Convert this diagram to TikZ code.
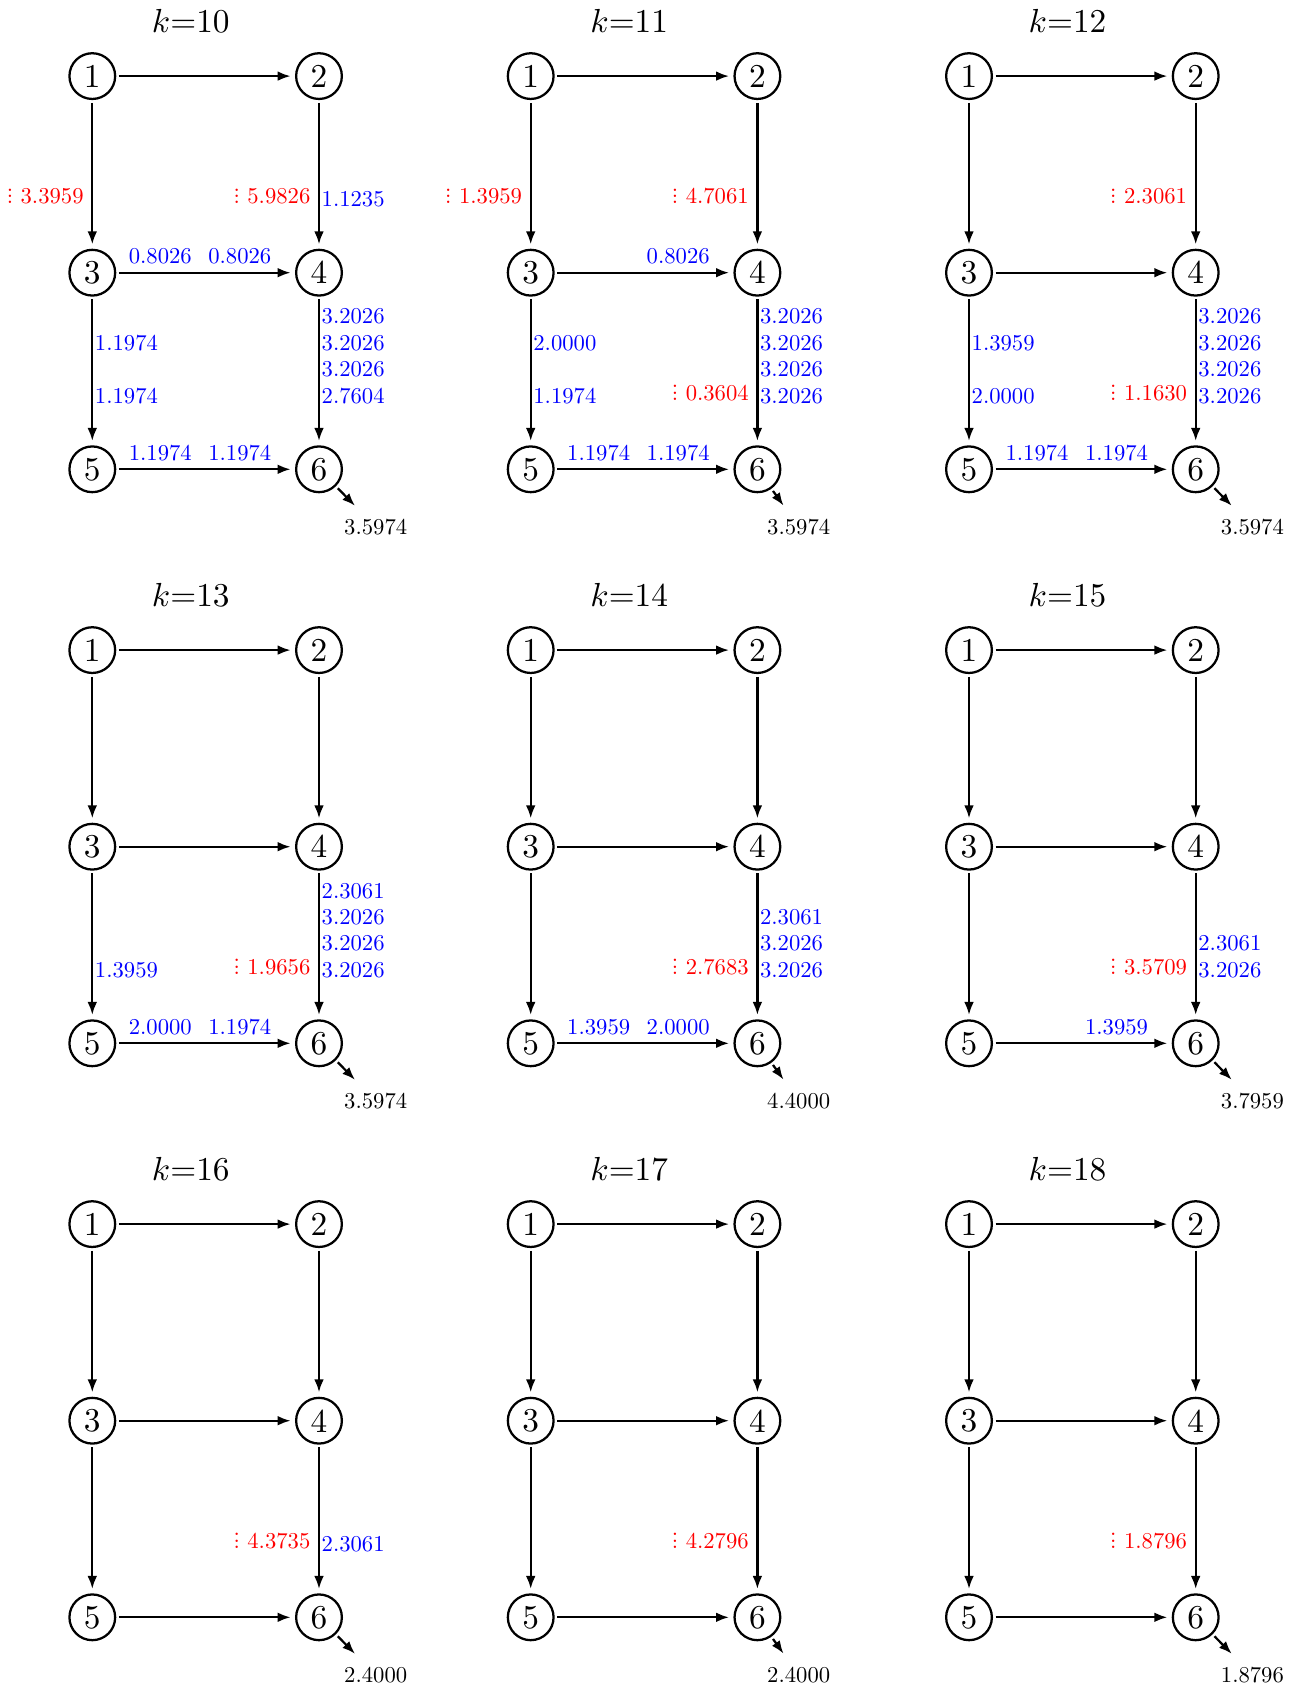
\documentclass[tikz,border=0pt]{standalone}
\usetikzlibrary{arrows.meta}
\font\labfont="[lmroman10-regular]" at 6.8pt
\newcounter{lbl}
\newcommand\rdots{\vbox{\baselineskip=1.9pt\lineskiplimit=-10pt\lineskip=0pt\hbox{.}\hbox{.}\hbox{.}}}
\tikzset{
  vx/.style={circle, draw, line width=0.68pt, minimum size=13.72pt, inner sep=0pt, outer sep=1.14pt, font=\fontsize{10}{12}\selectfont},
  arr/.style={-{Latex[length=3.9pt,width=2.9pt]}, line width=0.68pt, shorten >=0.5pt},
  blab/.style={text=blue, inner sep=0pt, font=\labfont},
  rlab/.style={text=red, inner sep=0pt, font=\labfont, anchor=base east},
  olab/.style={font=\labfont},
  ttl/.style={anchor=base, font=\fontsize{10}{12}\selectfont}
}
% blue label right of a vertical edge: edge x, baseline y, text
\newcommand\VL[3]{\stepcounter{lbl}\node[blab,anchor=base west] (lbl\arabic{lbl}) at (#1+2,#2) {#3};}
% blue label above a horizontal edge: centre x, baseline y, text
\newcommand\HL[3]{\stepcounter{lbl}\node[blab,anchor=base] (lbl\arabic{lbl}) at (#1,#2) {#3};}
% red label left of a vertical edge
\newcommand\RL[3]{\stepcounter{lbl}\node[rlab] (lbl\arabic{lbl}) at (#1-8,#2) {\rdots\ #3};}
% panel: name, X, Y, k, out dx, out text
\newcommand\mkpanel[6]{%
  \begin{scope}[shift={(#2,#3)}]
    \node[vx] (#1-1) at (0,0) {1};
    \node[vx] (#1-2) at (226.7,0) {2};
    \node[vx] (#1-3) at (0,196.6) {3};
    \node[vx] (#1-4) at (226.7,196.6) {4};
    \node[vx] (#1-5) at (0,393.2) {5};
    \node[vx] (#1-6) at (226.7,393.2) {6};
    \node[ttl] (#1-t) at (98.5,-43.2) {$k$=#4};
    \node[olab] (#1-o) at (226.7+#5,450.6) {#6};
  \end{scope}
  \draw[arr] (#1-1) -- (#1-2);
  \draw[arr] (#1-1) -- (#1-3);
  \draw[arr] (#1-2) -- (#1-4);
  \draw[arr] (#1-3) -- (#1-4);
  \draw[arr] (#1-3) -- (#1-5);
  \draw[arr] (#1-4) -- (#1-6);
  \draw[arr] (#1-5) -- (#1-6);
  \draw[arr] (#1-6) -- (#1-o);
}
\begin{document}
\begin{tikzpicture}[x=0.3pt,y=-0.3pt]
\useasboundingbox (0,0) rectangle (1303,1689);

% ---------- row 1 ----------
\mkpanel{k10}{92.3}{76.1}{10}{56.7}{3.5974}
\begin{scope}[shift={(92.3,76.1)}]
  \RL{0}{127.9}{3.3959}
  \RL{226.7}{127.9}{5.9826}
  \VL{226.7}{130.6}{1.1235}
  \HL{68}{187.6}{0.8026}
  \HL{147.5}{187.6}{0.8026}
  \VL{0}{274.4}{1.1974}
  \VL{0}{327.2}{1.1974}
  \VL{226.7}{247.9}{3.2026}
  \VL{226.7}{274.4}{3.2026}
  \VL{226.7}{300.6}{3.2026}
  \VL{226.7}{327.2}{2.7604}
  \HL{68}{384.2}{1.1974}
  \HL{147.5}{384.2}{1.1974}
\end{scope}

\mkpanel{k11}{530.7}{76.1}{11}{41.3}{3.5974}
\begin{scope}[shift={(530.7,76.1)}]
  \RL{0}{127.9}{1.3959}
  \RL{226.7}{127.9}{4.7061}
  \HL{147.5}{187.6}{0.8026}
  \VL{0}{274.4}{2.0000}
  \VL{0}{327.2}{1.1974}
  \VL{226.7}{247.9}{3.2026}
  \VL{226.7}{274.4}{3.2026}
  \VL{226.7}{300.6}{3.2026}
  \VL{226.7}{327.2}{3.2026}
  \RL{226.7}{324.5}{0.3604}
  \HL{68}{384.2}{1.1974}
  \HL{147.5}{384.2}{1.1974}
\end{scope}

\mkpanel{k12}{969.0}{76.1}{12}{56.7}{3.5974}
\begin{scope}[shift={(969.0,76.1)}]
  \RL{226.7}{127.9}{2.3061}
  \VL{0}{274.4}{1.3959}
  \VL{0}{327.2}{2.0000}
  \VL{226.7}{247.9}{3.2026}
  \VL{226.7}{274.4}{3.2026}
  \VL{226.7}{300.6}{3.2026}
  \VL{226.7}{327.2}{3.2026}
  \RL{226.7}{324.5}{1.1630}
  \HL{68}{384.2}{1.1974}
  \HL{147.5}{384.2}{1.1974}
\end{scope}

% ---------- row 2 ----------
\mkpanel{k13}{92.3}{650.1}{13}{56.7}{3.5974}
\begin{scope}[shift={(92.3,650.1)}]
  \VL{0}{327.2}{1.3959}
  \VL{226.7}{247.9}{2.3061}
  \VL{226.7}{274.4}{3.2026}
  \VL{226.7}{300.6}{3.2026}
  \VL{226.7}{327.2}{3.2026}
  \RL{226.7}{324.5}{1.9656}
  \HL{68}{384.2}{2.0000}
  \HL{147.5}{384.2}{1.1974}
\end{scope}

\mkpanel{k14}{530.7}{650.1}{14}{41.3}{4.4000}
\begin{scope}[shift={(530.7,650.1)}]
  \VL{226.7}{274.4}{2.3061}
  \VL{226.7}{300.6}{3.2026}
  \VL{226.7}{327.2}{3.2026}
  \RL{226.7}{324.5}{2.7683}
  \HL{68}{384.2}{1.3959}
  \HL{147.5}{384.2}{2.0000}
\end{scope}

\mkpanel{k15}{969.0}{650.1}{15}{56.7}{3.7959}
\begin{scope}[shift={(969.0,650.1)}]
  \VL{226.7}{300.6}{2.3061}
  \VL{226.7}{327.2}{3.2026}
  \RL{226.7}{324.5}{3.5709}
  \HL{147.5}{384.2}{1.3959}
\end{scope}

% ---------- row 3 ----------
\mkpanel{k16}{92.3}{1224.1}{16}{56.7}{2.4000}
\begin{scope}[shift={(92.3,1224.1)}]
  \RL{226.7}{324.5}{4.3735}
  \VL{226.7}{327.2}{2.3061}
\end{scope}

\mkpanel{k17}{530.7}{1224.1}{17}{41.3}{2.4000}
\begin{scope}[shift={(530.7,1224.1)}]
  \RL{226.7}{324.5}{4.2796}
\end{scope}

\mkpanel{k18}{969.0}{1224.1}{18}{56.7}{1.8796}
\begin{scope}[shift={(969.0,1224.1)}]
  \RL{226.7}{324.5}{1.8796}
\end{scope}
\end{tikzpicture}
\end{document}
